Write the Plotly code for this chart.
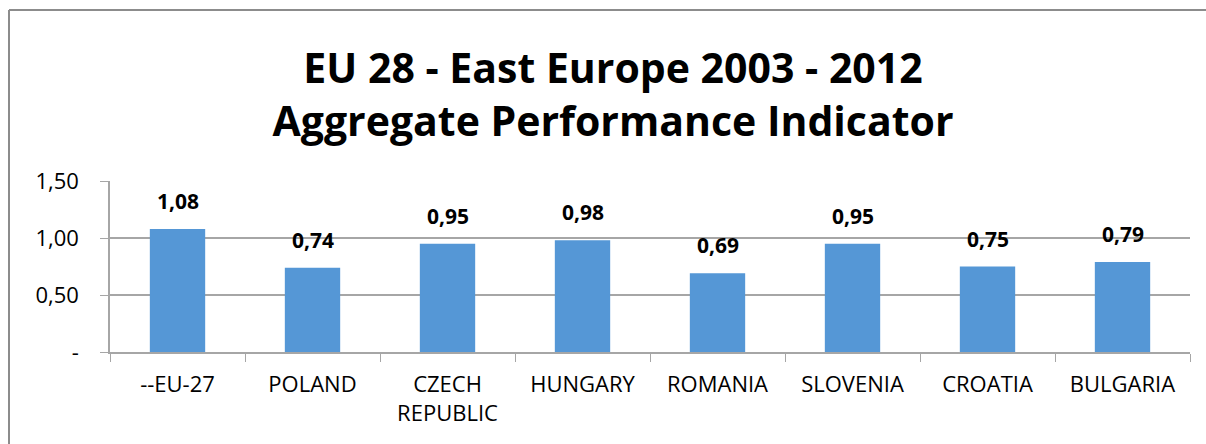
import plotly.graph_objects as go

categories = ["--EU-27", "POLAND", "CZECH<br>REPUBLIC", "HUNGARY", "ROMANIA", "SLOVENIA", "CROATIA", "BULGARIA"]
values = [1.08, 0.74, 0.95, 0.98, 0.69, 0.95, 0.75, 0.79]
tick_vals = [0, 0.5, 1.0, 1.5]
tick_text = ["-", "0,50", "1,00", "1,50"]

FONT = "Open Sans"
W, H = 1206, 444
ml, mr, mt, mb = 110, 16, 181, 92

fig = go.Figure()
fig.add_trace(go.Bar(
    x=categories, y=values,
    marker=dict(color="#5597d6", line=dict(width=0)),
    width=0.41,
    hoverinfo="skip",
))

for c, v in zip(categories, values):
    fig.add_annotation(x=c, y=v, text="<b>" + f"{v:.2f}".replace(".", ",") + "</b>",
                       showarrow=False, yanchor="bottom", yshift=12,
                       font=dict(family=FONT, size=21, color="black"))

pw = W - ml - mr
ph = H - mt - mb
left_x = (9 - ml) / pw
top_y = (H - mb - 10) / ph
fig.add_shape(type="line", xref="paper", yref="paper", x0=left_x, x1=left_x, y0=-mb / ph - 0.05, y1=top_y,
              line=dict(color="#8c8c8c", width=2))
fig.add_shape(type="line", xref="paper", yref="paper", x0=left_x, x1=(W - ml + 5) / pw, y0=top_y, y1=top_y,
              line=dict(color="#8c8c8c", width=2))

fig.update_layout(
    width=W, height=H,
    margin=dict(l=ml, r=mr, t=mt, b=mb, autoexpand=False),
    paper_bgcolor="white", plot_bgcolor="white",
    separators=",.",
    showlegend=False,
    title=dict(text="<b>EU 28 - East Europe 2003 - 2012<br>Aggregate Performance Indicator</b>",
               x=613 / W, xanchor="center", y=1 - 83 / H, yanchor="middle",
               font=dict(family=FONT, size=41, color="black")),
    bargap=0.59,
    xaxis=dict(showline=True, linecolor="#a6a6a6", linewidth=1.5,
               ticks="outside", tickcolor="#a6a6a6", ticklen=8, tickson="boundaries",
               tickfont=dict(family=FONT, size=22, color="black"), ticklabelstandoff=12,
               showgrid=False, fixedrange=True),
    yaxis=dict(range=[0, 1.5], tickvals=tick_vals, ticktext=tick_text,
               showline=True, linecolor="#a6a6a6", linewidth=1.5,
               ticks="outside", tickcolor="#a6a6a6", ticklen=8,
               showgrid=True, gridcolor="#a6a6a6", gridwidth=1.5,
               zeroline=False, ticklabelstandoff=17,
               tickfont=dict(family=FONT, size=22, color="black"), fixedrange=True),
)

fig.write_html("out.html", config={"displayModeBar": False},
               post_script="document.body.style.margin='0px';")
